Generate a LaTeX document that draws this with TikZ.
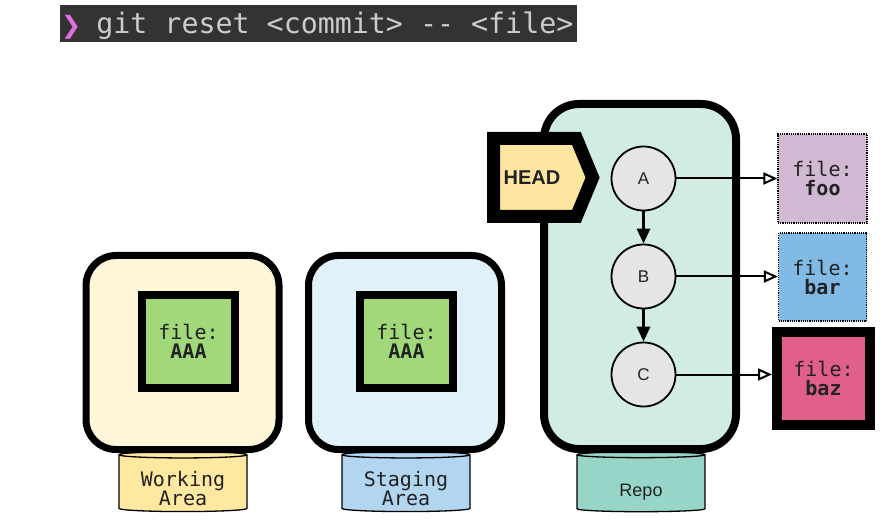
\documentclass[tikz,border=0pt]{standalone}
\usepackage{fontspec}
\setmonofont{DejaVu Sans Mono}
\setsansfont{Liberation Sans}
\newfontfamily\symfont{DejaVu Sans}
\usetikzlibrary{shapes.geometric,shapes.symbols,arrows.meta}
\definecolor{barra}{HTML}{333333}
\definecolor{textobarra}{HTML}{CCCCCC}
\definecolor{rosa}{HTML}{E070E0}
\definecolor{txt}{HTML}{222222}
\definecolor{workfill}{HTML}{FFF5D9}
\definecolor{workbase}{HTML}{FFE8A0}
\definecolor{stagefill}{HTML}{E1F1FA}
\definecolor{stagebase}{HTML}{B3D6F0}
\definecolor{repofill}{HTML}{D1ECE5}
\definecolor{repobase}{HTML}{96D5C8}
\definecolor{verde}{HTML}{A1D97A}
\definecolor{headfill}{HTML}{FEE6A0}
\definecolor{gris}{HTML}{E5E5E5}
\definecolor{foofill}{HTML}{D2B9D3}
\definecolor{barfill}{HTML}{82BAE6}
\definecolor{bazfill}{HTML}{E0608A}
\tikzstyle{area}=[draw, line width=7pt, rounded corners=30pt, minimum width=193pt, minimum height=194pt]
\tikzstyle{base}=[cylinder, shape border rotate=90, draw, line width=1.3pt, aspect=0.07, minimum width=128pt, minimum height=60pt,
                  align=center, text depth=0pt, text height=42pt, text=txt, font=\ttfamily\fontsize{20}{19}\selectfont]
\tikzstyle{file}=[draw, align=center, text=txt, font=\ttfamily\fontsize{20}{19}\selectfont]
\tikzstyle{commit}=[circle, draw, line width=1.8pt, fill=gris, minimum size=64pt, text=txt, font=\sffamily\fontsize{17}{17}\selectfont]

\begin{document}
\begin{tikzpicture}[x=1pt, y=-1pt]
        \useasboundingbox (0,0) rectangle (891,529);

        % Comando
        \fill[barra] (60,5) rectangle (577,42);
        \node[anchor=base west, inner sep=0pt, text=textobarra, font=\ttfamily\fontsize{28.3}{28.3}\selectfont] (cmd) at (61,34)
            {\textcolor{rosa}{\symfont\fontsize{24}{24}\selectfont ❯}\hspace{-2pt} git reset <commit> -{}- <file>};

        % Bases
        \node[base, fill=workbase] (wbase) at (183,484) {Working\\Area};
        \node[base, fill=stagebase] (sbase) at (406,484) {Staging\\Area};
        \node[base, fill=repobase, aspect=0.12, text height=25pt, font=\sffamily\fontsize{18}{18}\selectfont] (rbase) at (641,484) {Repo};

        % Areas
        \node[area, fill=workfill] (work) at (182.5,352.5) {};
        \node[area, fill=stagefill] (stage) at (405,352.5) {};
        \node[area, fill=repofill, rounded corners=35pt, line width=8pt, minimum width=192pt, minimum height=345pt] (repo) at (640,276.5) {};

        % Archivos
        \node[file, fill=verde, line width=8pt, minimum size=93pt] (wfile) at (188.5,341.5) {file:\\\textbf{AAA}};
        \node[file, fill=verde, line width=8pt, minimum size=93pt] (sfile) at (406.5,341.5) {file:\\\textbf{AAA}};

        % HEAD
        \node[signal, signal to=east, signal pointer angle=135, draw, line width=13pt, fill=headfill,
              minimum width=99pt, minimum height=78pt, text=txt, font=\sffamily\bfseries\fontsize{20}{20}\selectfont] (head) at (535,177.5) {HEAD\hspace*{6pt}};

        % Commits
        \foreach \c/\y in {A/178.5, B/276.5, C/374.5}
            \node[commit] (\c) at (643.5,\y) {\c};
        \draw[line width=3pt, -{Triangle[length=15pt, width=13pt]}] (A) -- (B);
        \draw[line width=3pt, -{Triangle[length=15pt, width=13pt]}] (B) -- (C);

        % Contenido
        \node[file, fill=foofill, densely dotted, line width=1.2pt, minimum size=89pt] (foo) at (822.5,178.5) {file:\\\textbf{foo}};
        \node[file, fill=barfill, densely dotted, line width=1.2pt, minimum size=88pt] (bar) at (822.5,277) {file:\\\textbf{bar}};
        \node[file, fill=bazfill, line width=10pt, minimum size=93pt] (baz) at (823.5,378.5) {file:\\\textbf{baz}};

        \foreach \c/\f in {A/foo, B/bar, C/baz}
            \draw[line width=2pt, -{Triangle[open, length=14pt, width=12pt]}] (\c.east) -- (\c.east -| \f.west);
\end{tikzpicture}
\end{document}
